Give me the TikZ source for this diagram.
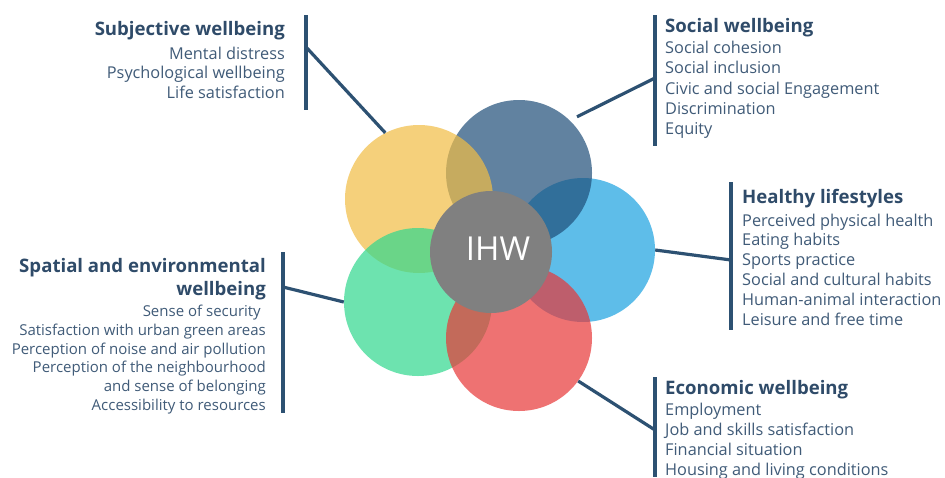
\documentclass[tikz,border=0pt]{standalone}
\usepackage{fontspec}
\setmainfont{Open Sans}
\definecolor{cLB}{RGB}{26,161,225}
\definecolor{cSL}{RGB}{31,78,121}
\definecolor{cYE}{RGB}{242,189,68}
\definecolor{cGR}{RGB}{48,216,142}
\definecolor{cRE}{RGB}{232,55,55}
\definecolor{cGY}{RGB}{128,128,128}
\definecolor{cLine}{RGB}{45,81,114}
\definecolor{cTitle}{RGB}{47,75,105}
\definecolor{cItem}{RGB}{64,91,120}
\tikzset{
  bubble/.style={circle, minimum size=#1, inner sep=0pt, fill opacity=0.7, draw=none},
  bar/.style={draw=cLine, line width=3.2pt},
  conn/.style={draw=cLine, line width=3.2pt},
  titleL/.style={anchor=base west, inner sep=0pt, text=cTitle, font=\fontsize{18.6}{22}\selectfont\bfseries},
  titleR/.style={anchor=base east, inner sep=0pt, text=cTitle, font=\fontsize{18.6}{22}\selectfont\bfseries},
  itemL/.style={anchor=base west, inner sep=0pt, text=cItem, font=\fontsize{16.3}{18}\selectfont},
  itemR/.style={anchor=base east, inner sep=0pt, text=cItem, font=\fontsize{16.3}{18}\selectfont},
  itemRs/.style={anchor=base east, inner sep=0pt, text=cItem, font=\fontsize{15}{17}\selectfont},
}
\begin{document}
\begin{tikzpicture}[x=1pt,y=-1pt]
\useasboundingbox[fill=white] (0,0) rectangle (945,477);
% circles
\node[bubble=144pt, fill=cLB] (HL) at (583,250) {};
\node[bubble=146pt, fill=cSL] (SO) at (519,173) {};
\node[bubble=148pt, fill=cYE] (SU) at (419,199) {};
\node[bubble=148pt, fill=cGR] (SP) at (418,302) {};
\node[bubble=146pt, fill=cRE] (EC) at (519,338) {};
\node[circle, minimum size=122pt, inner sep=0pt, fill=cGY] (IHW) at (491,252) {};
\node[anchor=base, inner sep=0pt, text=white, font=\fontsize{33}{33}\selectfont] (IHWt) at (498,260) {IHW};
% bars
\coordinate (suT) at (306,15);  \coordinate (suBt) at (306,110); \coordinate (suC) at (306,47);
\coordinate (soT) at (655,15);  \coordinate (soBt) at (655,146); \coordinate (soC) at (655,78);
\coordinate (hlT) at (731,182); \coordinate (hlBt) at (731,330); \coordinate (hlC) at (731,260);
\coordinate (spT) at (283,252); \coordinate (spBt) at (283,413); \coordinate (spC) at (283,287);
\coordinate (ecT) at (655,377); \coordinate (ecBt) at (655,477); \coordinate (ecC) at (655,430);
\draw[bar] (suT) -- (suBt);
\draw[bar] (soT) -- (soBt);
\draw[bar] (hlT) -- (hlBt);
\draw[bar] (spT) -- (spBt);
\draw[bar] (ecT) -- (ecBt);
% connectors
\draw[conn] (suC) -- (SU.117);
\draw[conn, shorten >=8pt] (soC) -- (SO.46);
\draw[conn] (hlC) -- (HL.0);
\draw[conn] (spC) -- (SP.180);
\draw[conn] (ecC) -- (EC.-36);
% Subjective
\node[titleR] (suTitle) at (285,35.7) {Subjective wellbeing};
\foreach \t [count=\i from 0] in {Mental distress, Psychological wellbeing, Life satisfaction}
  \node[itemR] (su-\i) at (285,{59.3+19.6*\i}) {\t};
% Social
\node[titleL] (soTitle) at (665,32.3) {Social wellbeing};
\foreach \t [count=\i from 0] in {Social cohesion, Social inclusion, Civic and social Engagement, Discrimination, Equity}
  \node[itemL] (so-\i) at (665,{53.3+20.4*\i}) {\t};
% Healthy
\node[titleL] (hlTitle) at (742,203.3) {Healthy lifestyles};
\foreach \t [count=\i from 0] in {Perceived physical health, Eating habits, Sports practice, Social and cultural habits, Human-animal interaction, Leisure and free time}
  \node[itemL] (hl-\i) at (742,{226+19.9*\i}) {\t};
% Spatial
\node[titleR] (spTitle1) at (266,272.3) {Spatial and environmental};
\node[titleR] (spTitle2) at (266,295) {wellbeing};
\foreach \t [count=\i from 0] in {Sense of security\hspace*{5pt}, Satisfaction with urban green areas, Perception of noise and air pollution, Perception of the neighbourhood, and sense of belonging, Accessibility to resources}
  \node[itemRs] (sp-\i) at (266,{316.7+18.7*\i}) {\t};
% Economic
\node[titleL] (ecTitle) at (665,394.3) {Economic wellbeing};
\foreach \t [count=\i from 0] in {Employment, Job and skills satisfaction, Financial situation, Housing and living conditions}
  \node[itemL] (ec-\i) at (665,{415+20*\i}) {\t};
\end{tikzpicture}
\end{document}
